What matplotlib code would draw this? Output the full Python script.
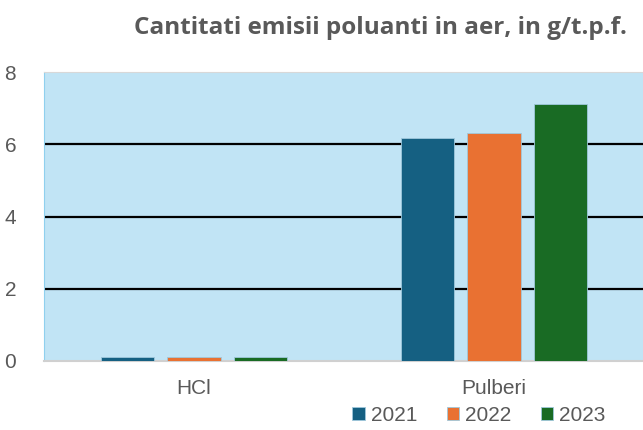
import matplotlib.pyplot as plt
import numpy as np

categories = ['HCl', 'Pulberi']
years = ['2021', '2022', '2023']
v2021 = [0.12, 6.18]
v2022 = [0.11, 6.32]
v2023 = [0.11, 7.12]
colors = ['#156082', '#E97132', '#196B24']

plt.rcParams['font.family'] = ['Liberation Sans', 'DejaVu Sans']

fig = plt.figure(figsize=(6.43, 4.30), dpi=100)
ax = fig.add_axes([44/643, 1-361/430, 600/643, (361-72)/430])
ax.set_facecolor('#C1E4F5')

x = np.arange(len(categories))
w = 0.177
step = 0.223
for i, (vals, lab) in enumerate(zip([v2021, v2022, v2023], years)):
    ax.bar(x + (i-1)*step, vals, w, color=colors[i], label=lab, zorder=3,
           edgecolor='#9fc8dc', linewidth=0.6)

ax.set_xlim(-0.5, 1.5)
ax.set_ylim(0, 8)
ax.set_yticks([0, 2, 4, 6, 8])
ax.set_xticks(x)
ax.set_xticklabels(categories)
ax.tick_params(length=0, labelsize=15, colors='#595959')
ax.tick_params(axis='y', pad=20)
ax.tick_params(axis='x', pad=13)
for y in [2, 4, 6]:
    ax.axhline(y, color='black', lw=1.6, zorder=2)
ax.spines['left'].set_color('#8fd0ee')
ax.spines['bottom'].set_color('#d0d0d0')
ax.spines['bottom'].set_linewidth(1.5)
ax.spines['top'].set_color('#d8d8d8')
ax.spines['right'].set_visible(False)

fig.text(0.591, 0.935, 'Cantitati emisii poluanti in aer, in g/t.p.f.', ha='center', va='center',
         fontsize=17.5, fontweight='bold', color='#595959', family='Open Sans')

ax.legend(loc='upper center', bbox_to_anchor=(0.725, -0.105), ncol=3, frameon=False,
          fontsize=15, labelcolor='#595959', handlelength=0.6, handleheight=0.6,
          handletextpad=0.3, columnspacing=1.4, borderpad=0.2)

fig.savefig('out.png', dpi=100)
